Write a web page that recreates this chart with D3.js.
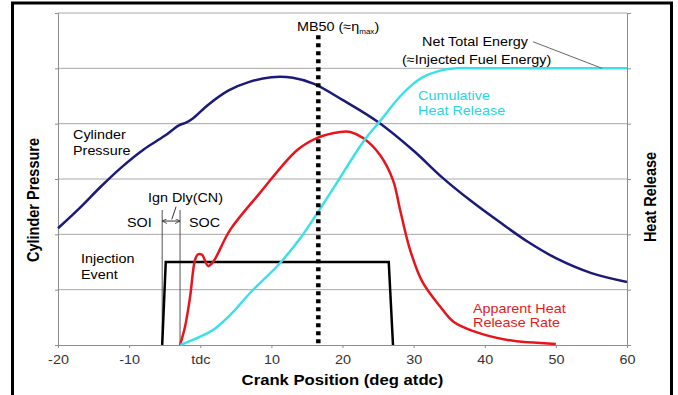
<!DOCTYPE html>
<html>
<head>
<meta charset="utf-8">
<script src="https://cdn.jsdelivr.net/npm/d3@7/dist/d3.min.js"></script>
<style>
body { margin: 0; background: #fff; }
text { font-family: Arial, "Liberation Sans", sans-serif; }
</style>
</head>
<body>
<svg id="chart" width="678" height="395"></svg>
<script>
// crank angle (deg atdc) vs. arbitrary units, one unit = one grid band
const pressureCurve = [
	[-20, 2.11], [-17, 2.47], [-14, 2.86], [-11, 3.22], [-8, 3.53], [-5, 3.78],
	[-3, 3.97], [-2, 4.02], [-1, 4.1], [1, 4.33], [4, 4.6], [7, 4.76], [10, 4.84],
	[13, 4.83], [16, 4.72], [20, 4.43], [25, 4.03], [30, 3.51], [34, 3.03], [38, 2.61],
	[42, 2.23], [46, 1.87], [50, 1.57], [55, 1.3], [60, 1.14]
]
const cumulativeHeat = [
	[-2.8, 0], [0, 0.15], [2.1, 0.3], [4.5, 0.58], [7, 0.94], [11, 1.45], [14, 1.92],
	[18.3, 2.75], [22.9, 3.67], [25.3, 4.05], [27.8, 4.45], [29.5, 4.67], [31.3, 4.84],
	[33.5, 4.95], [36, 5.0], [40, 5.0], [60, 5.0]
]
const heatReleaseRate = [
	[-2.84, 0], [-2.14, 0.33], [-1.43, 0.87], [-0.73, 1.54], [-0.3, 1.64], [0.25, 1.63],
	[1.1, 1.43], [1.8, 1.5], [4.2, 2.08], [8.4, 2.75], [13.6, 3.52], [16.4, 3.74],
	[19.7, 3.85], [21.1, 3.85], [22.9, 3.74], [25.3, 3.43], [27.1, 2.98], [28.1, 2.44],
	[29.5, 1.72], [31.2, 1.15], [33.7, 0.7], [35.6, 0.42], [38.4, 0.25], [43.2, 0.09],
	[50, 0.02]
]
const injectionEvent = [[-5.35, 0], [-4.85, 1.5], [26.5, 1.5], [27.1, 0]]

const xTicks = [-20, -10, 0, 10, 20, 30, 40, 50, 60]
const xTickLabels = ["-20", "-10", "tdc", "10", "20", "30", "40", "50", "60"]
const gridLevels = [0, 1, 2, 3, 4, 5, 6]

const mb50 = 16.6
const soi = -5.35
const soc = -2.84

const svg = d3.select("#chart")
const x = d3.scaleLinear().domain([-20, 60]).range([58, 627])
const y = d3.scaleLinear().domain([0, 6]).range([345, 13])
const stretch = 1.15

function label(str, dx, dy, opts = {}) {
	return svg.append("text")
		.attr("transform", "translate(" + x(dx) + "," + y(dy) + ") scale(" + stretch + ",1)")
		.attr("font-size", opts.size || 12.5)
		.attr("font-weight", opts.bold ? "bold" : null)
		.attr("fill", opts.color || "#000")
		.attr("text-anchor", opts.anchor || "start")
		.text(str)
}

// outer frame
svg.append("rect")
	.attr("x", 12.5).attr("y", 3).attr("width", 659).attr("height", 500)
	.attr("fill", "none").attr("stroke", "#000").attr("stroke-width", 3)

svg.append("g").selectAll("line").data(gridLevels.slice(1)).join("line")
	.attr("x1", x(-20)).attr("x2", x(60))
	.attr("y1", d => y(d)).attr("y2", d => y(d))
	.attr("stroke", "#a8a8a8")

const xAxis = svg.append("g")
	.attr("transform", "translate(0," + y(0) + ")")
	.call(d3.axisBottom(x).tickValues(xTicks).tickSize(3).tickPadding(7)
		.tickFormat((d, i) => xTickLabels[i]))
xAxis.selectAll("text").attr("font-size", 12.5).attr("fill", "#333")
	.attr("font-family", null).attr("transform", "scale(" + stretch + ",1)")

const leftAxis = svg.append("g")
	.attr("transform", "translate(" + x(-20) + ",0)")
	.call(d3.axisLeft(y).tickValues(gridLevels).tickSize(3).tickFormat(""))
const rightAxis = svg.append("g")
	.attr("transform", "translate(" + x(60) + ",0)")
	.call(d3.axisRight(y).tickValues(gridLevels).tickSize(4).tickFormat(""))
for (const a of [xAxis, leftAxis, rightAxis])
	a.selectAll("path, line").attr("stroke", "#8c8c8c")

// SOI / SOC markers and ignition delay arrow
svg.append("defs").append("marker")
	.attr("id", "head").attr("viewBox", "0 0 6 6").attr("refX", 6).attr("refY", 3)
	.attr("markerWidth", 5).attr("markerHeight", 5).attr("orient", "auto-start-reverse")
	.append("path").attr("d", "M0,0L6,3L0,6").attr("fill", "none").attr("stroke", "#333")
svg.append("g").selectAll("line").data([soi, soc]).join("line")
	.attr("x1", d => x(d)).attr("x2", d => x(d))
	.attr("y1", y(2.44)).attr("y2", y(0))
	.attr("stroke", "#555").attr("stroke-width", 1)
svg.append("line")
	.attr("x1", x(soi)).attr("x2", x(soc)).attr("y1", y(2.24)).attr("y2", y(2.24))
	.attr("stroke", "#333").attr("stroke-width", 1)
	.attr("marker-start", "url(#head)").attr("marker-end", "url(#head)")
svg.append("line")
	.attr("x1", x(-3.4)).attr("y1", y(2.5)).attr("x2", x(-4.0)).attr("y2", y(2.27))
	.attr("stroke", "#333")

const line = d3.line().x(d => x(d[0])).y(d => y(d[1]))
const smooth = d3.line().x(d => x(d[0])).y(d => y(d[1])).curve(d3.curveCatmullRom.alpha(0.5))

svg.append("path").datum(injectionEvent).attr("d", line)
	.attr("fill", "none").attr("stroke", "#000").attr("stroke-width", 2.5)
svg.append("path").datum(pressureCurve).attr("d", smooth)
	.attr("fill", "none").attr("stroke", "#1b1a7a").attr("stroke-width", 2.5)
svg.append("path").datum(heatReleaseRate).attr("d", smooth)
	.attr("fill", "none").attr("stroke", "#e8141c").attr("stroke-width", 2.5)
svg.append("path").datum(cumulativeHeat).attr("d", smooth)
	.attr("fill", "none").attr("stroke", "#3ce0e8").attr("stroke-width", 2.5)

svg.append("line")
	.attr("x1", x(mb50)).attr("x2", x(mb50)).attr("y1", y(5.6)).attr("y2", y(0))
	.attr("stroke", "#000").attr("stroke-width", 4.5).attr("stroke-dasharray", "4 4")

// net energy leader
svg.append("line")
	.attr("x1", x(46.8)).attr("y1", y(5.48)).attr("x2", x(56.5)).attr("y2", y(5.0))
	.attr("stroke", "#666").attr("stroke-width", 1)

label("Cylinder", -17.89, 3.72)
label("Pressure", -17.89, 3.43)
label("Injection", -16.77, 1.48)
label("Event", -16.77, 1.19)
label("SOI", -10.3, 2.13)
label("SOC", -1.58, 2.13)
label("Ign Dly(CN)", -7.35, 2.58)
const mb = label("MB50 (≈η", 13.6, 5.68)
mb.append("tspan").attr("font-size", 7).attr("dy", 3).text("max")
mb.append("tspan").attr("dy", -3).text(")")
label("Net Total Energy", 31.18, 5.4)
label("(≈Injected Fuel Energy)", 28.37, 5.08)
label("Cumulative", 30.62, 4.43, {color: "#2ad6e0"})
label("Heat Release", 30.62, 4.16, {color: "#2ad6e0"})
label("Apparent Heat", 38.35, 0.58, {color: "#e51a1a"})
label("Release Rate", 38.35, 0.33, {color: "#e51a1a"})

// axis titles
svg.append("text")
	.attr("transform", "translate(" + (x(-20) + x(60)) / 2 + "," + (y(0) + 40) + ") scale(" + stretch + ",1)")
	.attr("text-anchor", "middle").attr("font-size", 14.5).attr("font-weight", "bold")
	.text("Crank Position (deg atdc)")
svg.append("text")
	.attr("transform", "translate(" + (x(-20) - 19) + ",200) scale(" + stretch + ",1) rotate(-90)")
	.attr("text-anchor", "middle").attr("font-size", 14.5).attr("font-weight", "bold")
	.text("Cylinder Pressure")
svg.append("text")
	.attr("transform", "translate(" + (x(60) + 29) + ",197) scale(" + stretch + ",1) rotate(-90)")
	.attr("text-anchor", "middle").attr("font-size", 14.5).attr("font-weight", "bold")
	.text("Heat Release")
</script>
</body>
</html>
